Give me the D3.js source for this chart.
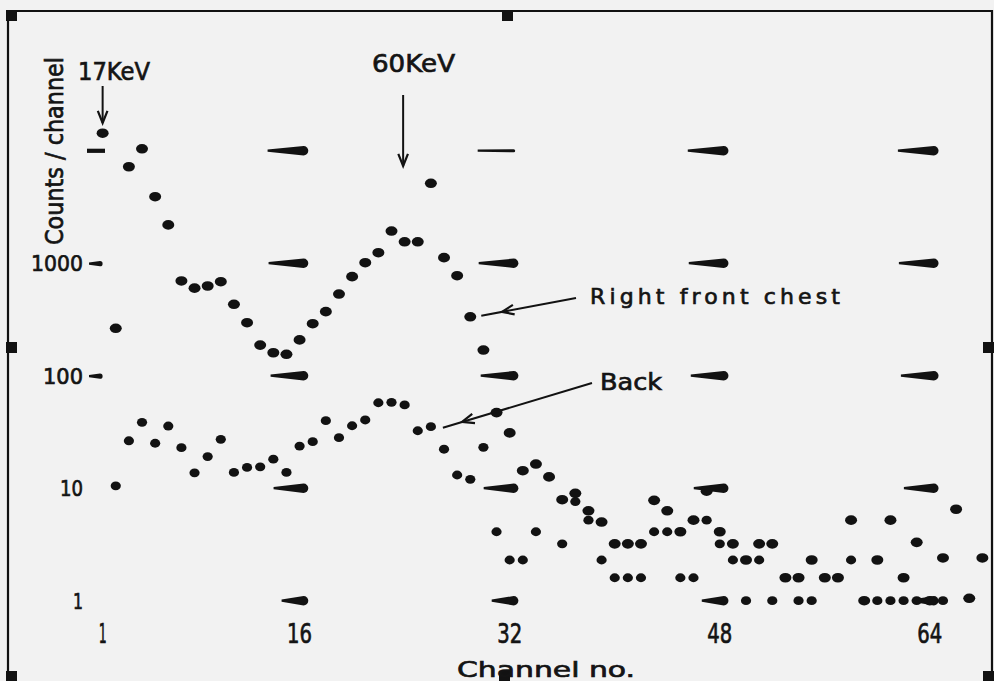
<!DOCTYPE html>
<html><head><meta charset="utf-8">
<script src="https://cdn.jsdelivr.net/npm/d3@7"></script>
<style>
html,body{margin:0;padding:0;background:#f2f2f2;}
svg{display:block;}
text{font-family:"DejaVu Sans",sans-serif;fill:#141414;stroke:#141414;stroke-width:0.7;}
</style></head><body>
<svg id="chart" width="994" height="681"></svg>
<script>
// ---- data ----
const channels = [1,2,3,4,5,6,7,8,9,10,11,12,13,14,15,16,17,18,19,20,21,22,23,24,25,26,27,28,29,30,
  31,32,33,34,35,36,37,38,39,40,41,42,43,44,45,46,47,48,49,50,51,52,53,54,55,56,57,58,59,60,
  61,62,63,64,65,66,67,68];
const rightFrontChest = [14300,264,7200,10400,3900,2190,695,600,627,685,431,296,187,160,155,208,290,371,532,759,
  1010,1240,1930,1550,1550,5130,1120,774,334,169,
  47,31,14.3,16.4,12.6,7.9,9.0,6.3,5.0,3.2,3.2,3.2,7.8,6.3,4.1,5.2,9.4,4.1,3.2,2.3,
  3.2,3.2,1.6,1.6,2.3,1.6,1.6,5.2,1.0,2.3,5.2,1.6,3.3,1.0,2.4,6.5,1.05,2.4];
const back = [null,10.5,26.4,38.5,25.1,35.7,22.9,13.7,19.1,27.2,13.8,15.3,15.5,18.1,13.8,23.7,25.9,39.8,28.1,35.9,
  40.4,57.5,58,55,32.4,35.2,22.2,13.1,12.0,23.1,
  4.1,2.3,2.3,4.1,null,3.2,7.6,5.2,2.3,1.6,1.6,1.6,4.1,4.1,1.6,1.6,5.2,3.2,2.3,1.0,
  2.3,1.0,null,1.0,1.0,null,null,2.3,null,1.0,1.0,1.0,1.0,null,1.0,null,null,null];
const xTickValues = [1,16,32,48,64];
const xTickLabels = ["1","16","32","48","64"];
const gridColumns = [16,32,48,64];
const yTickValues = [1,10,100,1000,10000];
const yTickLabels = ["1","10","100","1000",""];

// ---- scales ----
const ink = "#121212";
const svg = d3.select("#chart");
const x = d3.scaleLinear().domain([0,69]).range([89.5,995.5]);
const y = d3.scaleLog().domain([1,10000]).range([600.7,150.7]);

// frame + registration marks
svg.append("path").attr("d","M8,681 V11 H992 V681").attr("fill","none").attr("stroke",ink).attr("stroke-width",2.2);
const marks = [[6,10],[502,10],[6,342],[983,342],[6,671],[499,671],[983,671]];
svg.selectAll("rect.reg").data(marks).join("rect").attr("class","reg")
  .attr("x",d=>d[0]).attr("y",d=>d[1]).attr("width",11).attr("height",11).attr("fill",ink);

// tapered grid markers
function wedge(len,h){return `M${-len},-1.1 L3,${-h} A${h},${h} 0 0 1 3,${h} L${-len},1.1 Z`;}
const rowLen = {1:19,10:27,100:30,1000:32,10000:33};
const gridData = [];
gridColumns.forEach(c=>yTickValues.forEach(v=>gridData.push({c,v})));
svg.append("g").selectAll("path").data(gridData).join("path")
  .attr("d",d=>wedge(rowLen[d.v], d.v===10000&&d.c===32?1.5:4.7))
  .attr("transform",d=>`translate(${x(d.c)+1},${y(d.v)})`).attr("fill",ink);

// y axis marks and labels
svg.append("rect").attr("x",87).attr("y",y(10000)-2).attr("width",18).attr("height",4.2).attr("fill",ink);
svg.append("g").selectAll("path").data([100,1000]).join("path")
  .attr("d",wedge(8,2.6)).attr("transform",d=>`translate(${97},${y(d)+0.5})`).attr("fill",ink);
svg.append("g").selectAll("text").data(yTickValues.filter((v,i)=>yTickLabels[i])).join("text")
  .attr("x",83).attr("y",d=>y(d)+8).attr("text-anchor","end").attr("font-size",22)
  .attr("textLength",(d,i)=>[10,23,40,52][i]).attr("lengthAdjust","spacingAndGlyphs")
  .text(d=>yTickLabels[yTickValues.indexOf(d)]);

// x labels
svg.append("g").selectAll("text").data(xTickValues).join("text")
  .attr("x",d=>x(d)).attr("y",643).attr("text-anchor","middle").attr("font-size",26)
  .attr("textLength",(d,i)=>i===0?8:25).attr("lengthAdjust","spacingAndGlyphs")
  .text((d,i)=>xTickLabels[i]);

// axis titles
svg.append("text").attr("x",457).attr("y",677).attr("font-size",22)
  .attr("textLength",178).attr("lengthAdjust","spacingAndGlyphs").text("Channel no.");
svg.append("text").attr("transform","translate(63,151) rotate(-90)").attr("text-anchor","middle")
  .attr("font-size",25).attr("textLength",188).attr("lengthAdjust","spacingAndGlyphs").text("Counts / channel");

// data points
const rfc = channels.map((c,i)=>({c,v:rightFrontChest[i]})).filter(d=>d.v!=null);
const bk = channels.map((c,i)=>({c,v:back[i]})).filter(d=>d.v!=null);
svg.append("g").selectAll("ellipse").data(rfc).join("ellipse")
  .attr("cx",d=>x(d.c)).attr("cy",d=>y(d.v)).attr("rx",6).attr("ry",4.8).attr("fill",ink);
svg.append("g").selectAll("ellipse").data(bk).join("ellipse")
  .attr("cx",d=>x(d.c)).attr("cy",d=>y(d.v)).attr("rx",5.1).attr("ry",4.4).attr("fill",ink);

// annotations
function arrowLine(x1,y1,x2,y2,back){
  const g = svg.append("g").attr("stroke",ink).attr("stroke-width",2).attr("fill","none");
  g.append("line").attr("x1",x1).attr("y1",y1).attr("x2",x2).attr("y2",y2);
  const a = Math.atan2(y1-y2,x1-x2);
  const vx = x2+Math.cos(a)*back, vy = y2+Math.sin(a)*back;
  const L = 13, s = 0.38;
  g.append("path").attr("stroke-width",2.2)
    .attr("d",`M${vx+Math.cos(a+s)*L},${vy+Math.sin(a+s)*L} L${vx},${vy} L${vx+Math.cos(a-s)*L},${vy+Math.sin(a-s)*L}`);
}
// 17 keV
arrowLine(x(1),86,x(1),123,0);
svg.append("text").attr("x",78).attr("y",80).attr("font-size",24).attr("textLength",72)
  .attr("lengthAdjust","spacingAndGlyphs").text("17KeV");
// 60 keV
arrowLine(x(24)-1.5,95,x(24)-1.5,166,0);
svg.append("text").attr("x",372).attr("y",72).attr("font-size",24).attr("textLength",83)
  .attr("lengthAdjust","spacingAndGlyphs").text("60KeV");
// Right front chest
arrowLine(576,298,x(29)+11,y(rightFrontChest[28])-1,21);
svg.append("text").attr("x",590).attr("y",304).attr("font-size",22).attr("textLength",250)
  .attr("lengthAdjust","spacing").text("Right front chest");
// Back
arrowLine(592,383,x(26)+12,y(back[25])+1,20);
svg.append("text").attr("x",600).attr("y",390).attr("font-size",23).attr("textLength",62)
  .attr("lengthAdjust","spacingAndGlyphs").text("Back");
</script>
</body></html>
